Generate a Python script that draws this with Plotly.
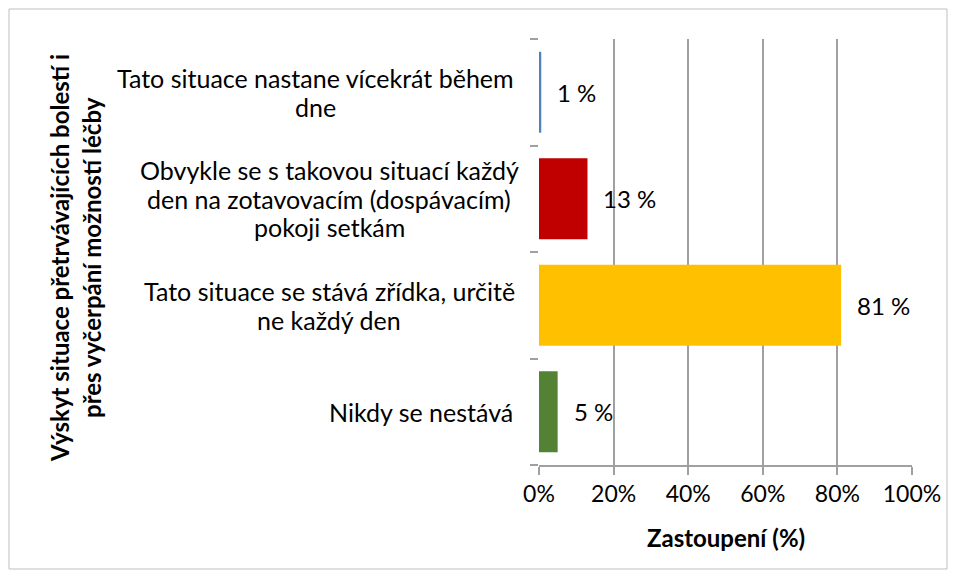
import plotly.graph_objects as go

categories = [
    "Tato situace nastane vícekrát během<br>dne",
    "Obvykle se s takovou situací každý<br>den na zotavovacím (dospávacím)<br>pokoji setkám",
    "Tato situace se stává zřídka, určitě<br>ne každý den",
    "Nikdy se nestává",
]
values = [0.6, 13, 81, 5]
value_labels = ["1 %", "13 %", "81 %", "5 %"]
colors = ["#4F81BD", "#C00000", "#FFC000", "#548235"]
x_ticks = [0, 20, 40, 60, 80, 100]
x_tick_labels = ["0%", "20%", "40%", "60%", "80%", "100%"]
x_title = "Zastoupení (%)"
y_title = "Výskyt situace přetrvávajících bolestí i<br>přes vyčerpání možností léčby"

# layout: pixel centre of each category label block (blocks are right-aligned at ~513px)
label_centres_px = [315, 329, 329, 421]

FONT = "Lato"
L, R, T, B = 539, 43, 39, 113
PW, PH = 955 - L - R, 578 - T - B
ids = list(range(len(categories)))

fig = go.Figure()
fig.add_trace(go.Bar(
    y=ids, x=values, orientation="h",
    marker=dict(color=colors, line=dict(width=0)),
    width=0.76, showlegend=False, hoverinfo="skip",
))

annotations = []
LINE = 28.5
for i, (c, v, t) in enumerate(zip(categories, values, value_labels)):
    lines = c.split("<br>")
    n = len(lines)
    for k, ln in enumerate(lines):
        annotations.append(dict(
            x=0, y=i, xref="x", yref="y", text=ln, showarrow=False,
            xanchor="center", yanchor="middle", align="center",
            xshift=-(L - label_centres_px[i]),
            yshift=-(k - (n - 1) / 2) * LINE,
            font=dict(family=FONT, size=25, color="#000000"),
        ))
    annotations.append(dict(
        x=v, y=i, xref="x", yref="y", text=t, showarrow=False,
        xanchor="left", yanchor="middle", xshift=14,
        font=dict(family=FONT, size=24, color="#000000"),
    ))

ylines = y_title.split("<br>")
for k, ln in enumerate(ylines):
    annotations.append(dict(
        x=(59 + 32 * k - L) / PW, y=(465 - 258) / PH, xref="paper", yref="paper",
        text="<b>" + ln + "</b>", showarrow=False, textangle=-90,
        xanchor="center", yanchor="middle",
        font=dict(family=FONT, size=24, color="#000000"),
    ))
annotations.append(dict(
    x=0.5, y=(465 - 537) / PH, xref="paper", yref="paper",
    text="<b>" + x_title + "</b>", showarrow=False,
    xanchor="center", yanchor="middle",
    font=dict(family=FONT, size=24, color="#000000"),
))

fig.update_layout(
    width=955, height=578,
    margin=dict(l=L, r=R, t=T, b=B, pad=0, autoexpand=False),
    paper_bgcolor="white", plot_bgcolor="white",
    font=dict(family=FONT, size=20, color="#000000"),
    annotations=annotations,
    shapes=[dict(
        type="rect", xref="paper", yref="paper",
        x0=(9 - L) / PW, x1=(947 - L) / PW,
        y0=(465 - 569) / PH, y1=(465 - 9) / PH,
        line=dict(color="#BFBFBF", width=1), fillcolor="rgba(0,0,0,0)",
        layer="below",
    )],
)
fig.update_xaxes(
    range=[0, 100], tickmode="array", tickvals=x_ticks, ticktext=x_tick_labels,
    showgrid=True, gridcolor="#A0A0A0", gridwidth=1.5,
    showline=True, linecolor="#A0A0A0", linewidth=1.5,
    ticks="outside", ticklen=8, tickcolor="#A0A0A0", tickwidth=1.5,
    tickfont=dict(family=FONT, size=23),
    zeroline=False, automargin=False,
)
fig.update_yaxes(
    type="linear", range=[3.5, -0.5], tickmode="array",
    tickvals=[-0.5, 0.5, 1.5, 2.5, 3.5],
    showticklabels=False, showgrid=False,
    showline=False, ticks="outside", ticklen=8, tickcolor="#A0A0A0", tickwidth=1.5,
    zeroline=False, automargin=False,
)

fig.write_html("out.html", config={"displayModeBar": False},
               post_script="document.body.style.margin='0';")
